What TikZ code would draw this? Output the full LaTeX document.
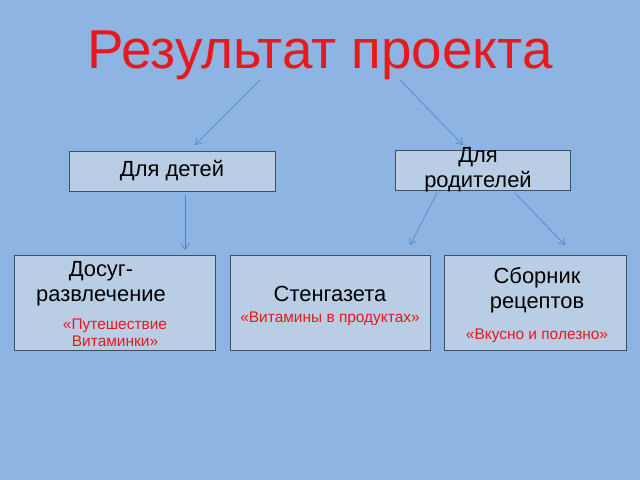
\documentclass[tikz,border=0pt]{standalone}
\usepackage{fontspec}
\setmainfont{Liberation Sans}
\usetikzlibrary{arrows.meta}
\definecolor{bg}{HTML}{8DB4E2}
\definecolor{boxf}{HTML}{B9CDE5}
\definecolor{boxd}{HTML}{3F4F63}
\definecolor{ttl}{HTML}{E8191B}
\definecolor{arr}{HTML}{4F81BD}
\tikzset{box/.style={draw=boxd,line width=1pt,fill=boxf,align=center,inner sep=0pt},
 con/.style={draw=arr,line width=0.6pt,-{Straight Barb[length=6pt,width=8pt]}},
 big/.style={font=\fontsize{22}{25}\selectfont,align=center},
 sub/.style={text=ttl,font=\fontsize{15.5}{17}\selectfont,align=center}}
\begin{document}
\begin{tikzpicture}[x=1bp,y=-1bp]
\fill[bg] (0,0) rectangle (640,480);
\useasboundingbox (0,0) rectangle (640,480);
\node[text=ttl,font=\fontsize{55}{60}\selectfont] (t) at (320,55) {Результат проекта};
\node[box,minimum width=206bp,minimum height=40bp,big] (a) at (172,171) {Для детей};
\node[box,minimum width=175bp,minimum height=40bp] (b) at (482.5,170) {};
\node[big] (bt) at (478,170) {Для\\родителей};
\node[box,minimum width=201bp,minimum height=95bp] (c) at (114.5,302.5) {};
\node[box,minimum width=200bp,minimum height=95bp] (d) at (330,302.5) {};
\node[box,minimum width=182bp,minimum height=95bp] (e) at (535,302.5) {};
\node[big] (c1) at (101,284) {Досуг-\\развлечение};
\node[sub] (c2) at (115,333) {«Путешествие\\Витаминки»};
\node[big] (d1) at (330,294) {Стенгазета};
\node[sub] (d2) at (330,319) {«Витамины в продуктах»};
\node[big] (e1) at (537,290) {Сборник\\рецептов};
\node[sub] (e2) at (537,336) {«Вкусно и полезно»};
\coordinate (p1) at (260,80); \coordinate (q1) at (195,145);
\coordinate (p2) at (400,80); \coordinate (q2) at (463,145);
\coordinate (p3) at (185,195); \coordinate (q3) at (185,250);
\coordinate (p4) at (437,193); \coordinate (q4) at (410,245);
\coordinate (p5) at (515,193); \coordinate (q5) at (565,245);
\draw[con] (p1)--(q1); \draw[con] (p2)--(q2); \draw[con] (p3)--(q3);
\draw[con] (p4)--(q4); \draw[con] (p5)--(q5);
\end{tikzpicture}
\end{document}
